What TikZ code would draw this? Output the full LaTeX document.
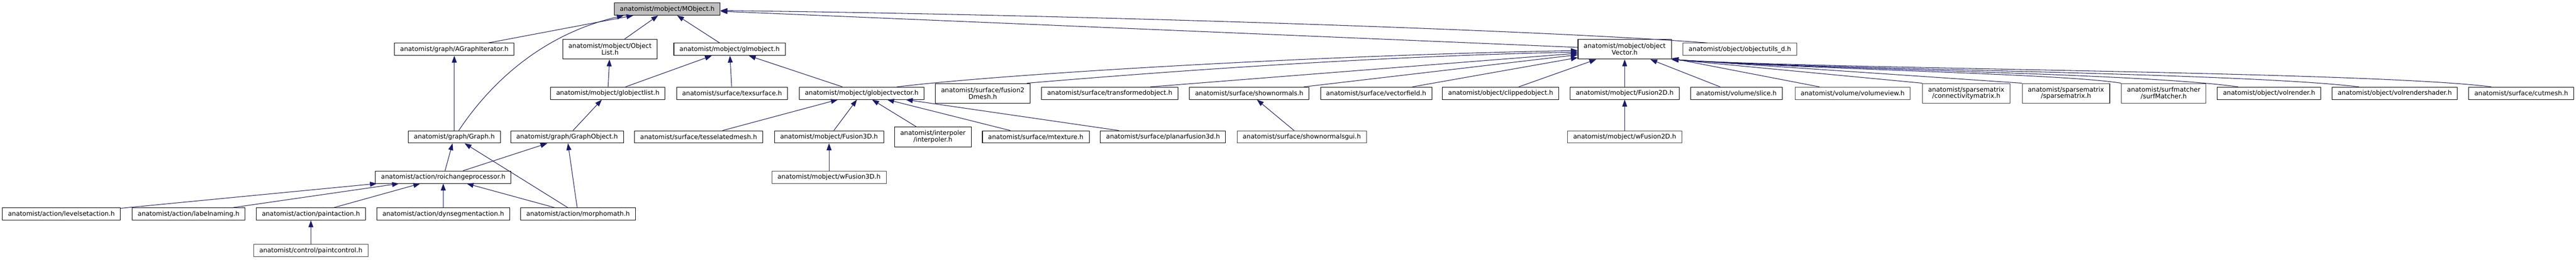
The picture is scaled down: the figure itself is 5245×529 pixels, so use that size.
\documentclass[tikz,border=0pt]{standalone}
\usepackage{fontspec}
\setmainfont{DejaVu Sans}
\usepackage{tikz}
\usetikzlibrary{arrows.meta}

\definecolor{edgeblue}{HTML}{191970}
\definecolor{rootgray}{HTML}{BFBFBF}
\definecolor{nodocgray}{HTML}{404040}

\begin{document}
\begin{tikzpicture}[x=1pt, y=-1pt,
		file/.style={draw=black, line width=1.1pt, fill=white, inner xsep=11.5pt, inner ysep=0pt,
			minimum height=25pt, align=center, font=\fontsize{13}{13.5}\selectfont},
		twoline/.style={minimum height=40pt},
		nodoc/.style={draw=nodocgray},
		root/.style={fill=rootgray},
		dep/.style={draw=edgeblue, line width=1.1pt, -{Triangle[length=14pt,width=10pt]}}]
		\useasboundingbox (0,0) rectangle (5245,529);

		\node[file,root] (mobject) at (1358.5, 18.5) {anatomist/mobject/MObject.h};

		\node[file] (agraphiter) at ( 925, 100.5) {anatomist/graph/AGraphIterator.h};
		\node[file,twoline] (objlist) at (1242, 100.5) {anatomist/mobject/Object\\List.h};
		\node[file] (glmobj) at (1485.5, 100.5) {anatomist/mobject/glmobject.h};
		\node[file,twoline] (objvec) at (3308, 100.5) {anatomist/mobject/object\\Vector.h};
		\node[file,nodoc] (objutils) at (3542.5, 100.5) {anatomist/object/objectutils\_d.h};

		\node[file] (globjlist) at (1237.5, 190) {anatomist/mobject/globjectlist.h};
		\node[file] (texsurf) at (1490.5, 190) {anatomist/surface/texsurface.h};
		\node[file] (globjvec) at (1754.5, 190) {anatomist/mobject/globjectvector.h};
		\node[file,twoline] (fusionmesh) at (2001, 190) {anatomist/surface/fusion2\\Dmesh.h};
		\node[file] (transfobj) at (2259.5, 190) {anatomist/surface/transformedobject.h};
		\node[file] (shownorm) at (2543.5, 190) {anatomist/surface/shownormals.h};
		\node[file] (vecfield) at (2802, 190) {anatomist/surface/vectorfield.h};
		\node[file] (clipobj) at (3055.5, 190) {anatomist/object/clippedobject.h};
		\node[file] (fusion2d) at (3308, 190) {anatomist/mobject/Fusion2D.h};
		\node[file] (volslice) at (3535.5, 190) {anatomist/volume/slice.h};
		\node[file,nodoc] (volview) at (3772, 190) {anatomist/volume/volumeview.h};
		\node[file,twoline,nodoc] (connmat) at (4003.5, 190) {anatomist/sparsematrix\\/connectivitymatrix.h};
		\node[file,twoline,nodoc] (sparsemat) at (4206.5, 190) {anatomist/sparsematrix\\/sparsematrix.h};
		\node[file,twoline,nodoc] (surfmatch) at (4405.5, 190) {anatomist/surfmatcher\\/surfMatcher.h};
		\node[file] (volrender) at (4620, 190) {anatomist/object/volrender.h};
		\node[file] (volshader) at (4876, 190) {anatomist/object/volrendershader.h};
		\node[file] (cutmesh) at (5133.5, 190) {anatomist/surface/cutmesh.h};

		\node[file] (graph) at ( 925, 279) {anatomist/graph/Graph.h};
		\node[file] (graphobj) at (1154.5, 279) {anatomist/graph/GraphObject.h};
		\node[file] (tessmesh) at (1422.5, 279) {anatomist/surface/tesselatedmesh.h};
		\node[file] (fusion3d) at (1688, 279) {anatomist/mobject/Fusion3D.h};
		\node[file,twoline] (interp) at (1899.5, 279) {anatomist/interpoler\\/interpoler.h};
		\node[file] (mtexture) at (2109, 279) {anatomist/surface/mtexture.h};
		\node[file] (planarfus) at (2368, 279) {anatomist/surface/planarfusion3d.h};
		\node[file,nodoc] (shownormgui) at (2650.5, 279) {anatomist/surface/shownormalsgui.h};
		\node[file,nodoc] (wfusion2d) at (3308, 279) {anatomist/mobject/wFusion2D.h};

		\node[file] (roich) at ( 902.5, 361) {anatomist/action/roichangeprocessor.h};
		\node[file,nodoc] (wfusion3d) at (1688, 361) {anatomist/mobject/wFusion3D.h};

		\node[file] (levelset) at ( 125, 436) {anatomist/action/levelsetaction.h};
		\node[file] (labelnaming) at ( 384, 436) {anatomist/action/labelnaming.h};
		\node[file] (paintact) at ( 633, 436) {anatomist/action/paintaction.h};
		\node[file] (dynseg) at ( 902.5, 436) {anatomist/action/dynsegmentaction.h};
		\node[file] (morphomath) at (1177, 436) {anatomist/action/morphomath.h};

		\node[file,nodoc] (paintctrl) at ( 633, 510.5) {anatomist/control/paintcontrol.h};

		% into MObject.h
		\draw[dep] (agraphiter) -- (mobject);
		\draw[dep] ([xshift=9pt]graph.north) .. controls (1010,152) and (1120,66) .. ([xshift=20pt]mobject.south west);
		\draw[dep] (objlist) -- (mobject);
		\draw[dep] (glmobj) -- (mobject);
		\draw[dep] (objvec) -- (mobject);
		\draw[dep] ([xshift=-66pt]objutils.north) .. controls (3150,62) and (2200,30) .. ([yshift=-3pt]mobject.east);

		% second level
		\draw[dep] (globjlist) -- (objlist);
		\draw[dep] (globjlist) -- (glmobj);
		\draw[dep] (texsurf) -- (glmobj);
		\draw[dep] (globjvec) -- (glmobj);
		\draw[dep] (graph) -- (agraphiter);
		\draw[dep] (graphobj) -- (globjlist);

		% into objectVector.h
		\draw[dep] ([xshift=72pt]globjvec.north) .. controls (2050,150) and (2700,112) .. ([yshift=-2.5pt]objvec.west);
		\draw[dep] ([xshift=90pt]fusionmesh.north) .. controls (2300,152) and (2750,116) .. ([yshift=-5.5pt]objvec.west);
		\draw[dep] ([xshift=83pt]transfobj.north) -- ([yshift=-8pt]objvec.west);
		\draw[dep] (shownorm) -- (objvec);
		\draw[dep] (vecfield) -- (objvec);
		\draw[dep] (clipobj) -- (objvec);
		\draw[dep] (fusion2d) -- (objvec);
		\draw[dep] (volslice) -- (objvec);
		\draw[dep] (volview) -- (objvec);
		\draw[dep] (connmat.north west) -- (objvec.south east);
		\draw[dep] (sparsemat.north west) -- (objvec.south east);
		\draw[dep] (surfmatch.north west) .. controls (4200,150) and (3703,142) .. (objvec.south east);
		\draw[dep] ([xshift=-63pt]volrender.north) .. controls (4350,148) and (3703,142) .. (objvec.south east);
		\draw[dep] ([xshift=-73pt]volshader.north) .. controls (4553,147) and (3703,142) .. (objvec.south east);
		\draw[dep] ([xshift=-61pt]cutmesh.north) .. controls (4822,145) and (3703,141) .. (objvec.south east);

		% into globjectvector.h
		\draw[dep] (tessmesh) -- (globjvec);
		\draw[dep] (fusion3d) -- (globjvec);
		\draw[dep] (interp) -- (globjvec);
		\draw[dep] (mtexture) -- (globjvec);
		\draw[dep] (planarfus) -- (globjvec);

		\draw[dep] (wfusion3d) -- (fusion3d);
		\draw[dep] (shownormgui) -- (shownorm);
		\draw[dep] (wfusion2d) -- (fusion2d);

		% graph side
		\draw[dep] (roich) -- (graph);
		\draw[dep] (roich) -- (graphobj);
		\draw[dep] (morphomath) -- (graph);
		\draw[dep] (morphomath) -- (graphobj);

		\draw[dep] (levelset) -- (roich);
		\draw[dep] (labelnaming) -- (roich);
		\draw[dep] (paintact) -- (roich);
		\draw[dep] (dynseg) -- (roich);
		\draw[dep] (morphomath) -- (roich);

		\draw[dep] (paintctrl) -- (paintact);
	\end{tikzpicture}
\end{document}
